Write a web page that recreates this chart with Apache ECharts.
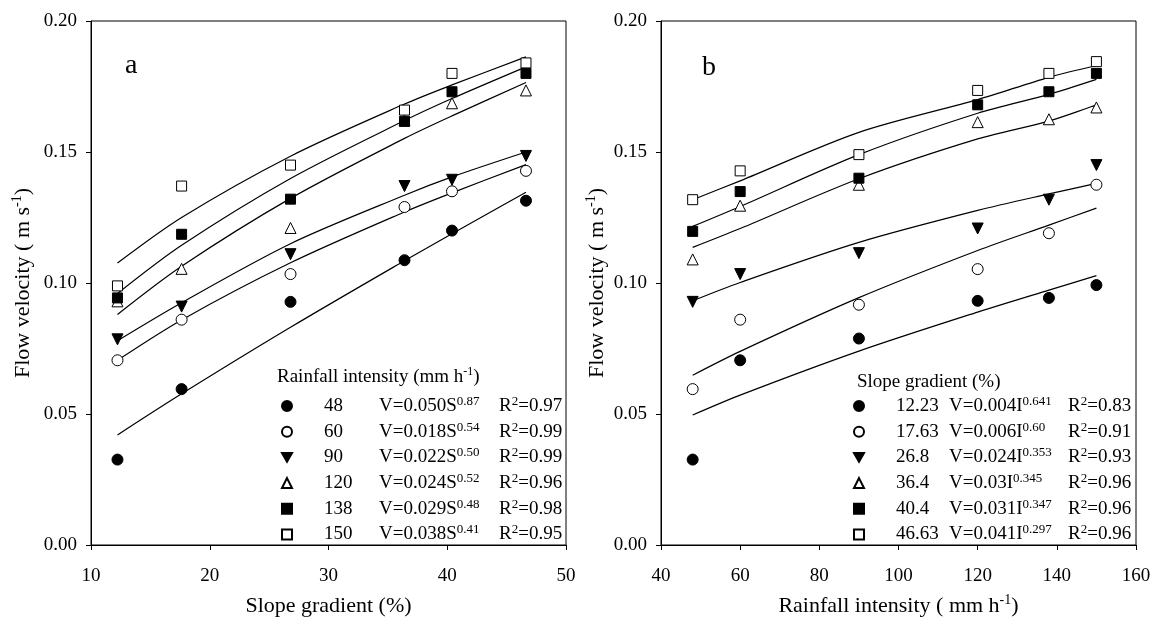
<!DOCTYPE html>
<html>
<head>
<meta charset="utf-8">
<script src="https://cdn.jsdelivr.net/npm/echarts@6/dist/echarts.min.js"></script>
<style>
  html, body { margin: 0; padding: 0; background: #fff; }
  #chart { width: 1154px; height: 622px; }
</style>
</head>
<body>
<div id="chart"></div>
<script>
// ---- Panel a: velocity vs slope gradient, one series per rainfall intensity ----
const slopeX = [12.23, 17.63, 26.8, 36.4, 40.4, 46.63];
const rainNames = ['48', '60', '90', '120', '138', '150'];
const rainObs = [
  [0.0326, 0.0595, 0.0928, 0.1087, 0.1200, 0.1314],
  [0.0705, 0.0860, 0.1034, 0.1290, 0.1350, 0.1428],
  [0.0785, 0.0910, 0.1110, 0.1370, 0.1394, 0.1485],
  [0.0930, 0.1054, 0.1210, 0.1620, 0.1686, 0.1735],
  [0.0943, 0.1186, 0.1320, 0.1617, 0.1730, 0.1800],
  [0.0989, 0.1370, 0.1450, 0.1660, 0.1800, 0.1840]
];
// fitted power curves evaluated at the measured slopes
const rainFit = [
  [0.0420, 0.0577, 0.0831, 0.1085, 0.1188, 0.1346],
  [0.0705, 0.0859, 0.1077, 0.1271, 0.1344, 0.1452],
  [0.0780, 0.0925, 0.1150, 0.1335, 0.1405, 0.1500],
  [0.0880, 0.1064, 0.1323, 0.1552, 0.1638, 0.1765],
  [0.0960, 0.1144, 0.1399, 0.1620, 0.1704, 0.1825],
  [0.1076, 0.1250, 0.1484, 0.1683, 0.1756, 0.1863]
];
const rainEq = [
  ['V=0.050S', '0.87', '0.97'],
  ['V=0.018S', '0.54', '0.99'],
  ['V=0.022S', '0.50', '0.99'],
  ['V=0.024S', '0.52', '0.96'],
  ['V=0.029S', '0.48', '0.98'],
  ['V=0.038S', '0.41', '0.95']
];

// ---- Panel b: velocity vs rainfall intensity, one series per slope gradient ----
const rainX = [48, 60, 90, 120, 138, 150];
const slopeNames = ['12.23', '17.63', '26.8', '36.4', '40.4', '46.63'];
const slopeObs = [
  [0.0326, 0.0705, 0.0788, 0.0932, 0.0943, 0.0992],
  [0.0595, 0.0860, 0.0917, 0.1053, 0.1190, 0.1375],
  [0.0928, 0.1034, 0.1114, 0.1208, 0.1318, 0.1450],
  [0.1090, 0.1295, 0.1375, 0.1614, 0.1625, 0.1670],
  [0.1197, 0.1349, 0.1400, 0.1680, 0.1730, 0.1800],
  [0.1318, 0.1428, 0.1490, 0.1735, 0.1800, 0.1845]
];
const slopeFit = [
  [0.0496, 0.0572, 0.0740, 0.0889, 0.0973, 0.1028],
  [0.0648, 0.0739, 0.0944, 0.1124, 0.1221, 0.1286],
  [0.0932, 0.1002, 0.1155, 0.1277, 0.1340, 0.1380],
  [0.1136, 0.1208, 0.1398, 0.1550, 0.1618, 0.1680],
  [0.1216, 0.1292, 0.1490, 0.1648, 0.1720, 0.1777],
  [0.1318, 0.1390, 0.1575, 0.1700, 0.1785, 0.1830]
];
const slopeEq = [
  ['V=0.004I', '0.641', '0.83'],
  ['V=0.006I', '0.60', '0.91'],
  ['V=0.024I', '0.353', '0.93'],
  ['V=0.03I', '0.345', '0.96'],
  ['V=0.031I', '0.347', '0.96'],
  ['V=0.041I', '0.297', '0.96']
];

const yTicks = [0, 0.05, 0.10, 0.15, 0.20];

// marker styles shared by both panels: filled circle, open circle, filled down-triangle,
// open triangle, filled square, open square
const markers = [
  { symbol: 'circle', fill: '#000', rotate: 0 },
  { symbol: 'circle', fill: '#fff', rotate: 0 },
  { symbol: 'triangle', fill: '#000', rotate: 180 },
  { symbol: 'triangle', fill: '#fff', rotate: 0 },
  { symbol: 'rect', fill: '#000', rotate: 0 },
  { symbol: 'rect', fill: '#fff', rotate: 0 }
];
const DOWN_TRI = 'path://M0,0L10,0L5,8.66Z';

const FONT = '"Liberation Serif", "Times New Roman", serif';
const LEG_SIZE = 19;

// text width helper for lining up the R² column
const measureCtx = document.createElement('canvas').getContext('2d');
function textWidth(str, size) {
  measureCtx.font = size + 'px ' + FONT;
  return measureCtx.measureText(str).width;
}

const series = [];
function addPanel(idx, xs, names, obs, fit) {
  names.forEach((nm, i) => {
    series.push({
      type: 'line',
      name: 'fit ' + nm,
      xAxisIndex: idx, yAxisIndex: idx,
      data: xs.map((x, j) => [x, fit[i][j]]),
      smooth: 0.3,
      showSymbol: false,
      symbol: 'none',
      silent: true,
      lineStyle: { color: '#000', width: 1.2 },
      z: 2
    });
  });
  names.forEach((nm, i) => {
    const m = markers[i];
    series.push({
      type: 'scatter',
      name: nm,
      xAxisIndex: idx, yAxisIndex: idx,
      data: xs.map((x, j) => [x, obs[i][j]]),
      symbol: m.symbol,
      symbolRotate: m.rotate,
      symbolSize: m.symbol === 'rect' ? 10 : 11,
      itemStyle: { color: m.fill, borderColor: '#000', borderWidth: 1, opacity: 1 },
      z: 3 + i
    });
  });
}
addPanel(0, slopeX, rainNames, rainObs, rainFit);
addPanel(1, rainX, slopeNames, slopeObs, slopeFit);

const baseText = { fontFamily: FONT, fontSize: LEG_SIZE, color: '#000', lineHeight: 22 };
const supText = { fontFamily: FONT, fontSize: 13, color: '#000', verticalAlign: 'top', lineHeight: 12 };

// legend rows: value column, equation with exponent, then R² column at fixed offset
function makeLegend(names, eqs, left, top, valPad, valW, eqCol) {
  const rich = {
    v: Object.assign({}, baseText, { width: valW, padding: [0, 0, 0, valPad] }),
    e: Object.assign({}, baseText),
    r: Object.assign({}, baseText),
    t: Object.assign({}, supText)
  };
  eqs.forEach((e, k) => {
    rich['s' + k] = Object.assign({}, supText, { width: Math.max(10, eqCol - textWidth(e[0], LEG_SIZE)) });
  });
  return {
    data: names.map((nm, k) => k === 2 ? { name: nm, icon: DOWN_TRI } : { name: nm }),
    orient: 'vertical',
    left: left,
    top: top,
    padding: 0,
    itemWidth: 10,
    itemHeight: 10,
    itemGap: 5.2,
    selectedMode: false,
    formatter: function (name) {
      const k = names.indexOf(name);
      const e = eqs[k];
      return '{v|' + name + '}{e|' + e[0] + '}{s' + k + '|' + e[1] + '}{r|R}{t|2}{r|=' + e[2] + '}';
    },
    textStyle: { fontFamily: FONT, fontSize: LEG_SIZE, color: '#000', rich: rich }
  };
}

const titleRich = {
  t: { fontFamily: FONT, fontSize: 22, color: '#000', lineHeight: 26 },
  s: { fontFamily: FONT, fontSize: 14, color: '#000', verticalAlign: 'top', lineHeight: 16 }
};

function yAxisCfg(idx, gap) {
  return {
    type: 'value',
    gridIndex: idx,
    min: 0, max: 0.2, interval: 0.05,
    name: '{t|Flow velocity ( m s}{s|-1}{t|)}',
    nameLocation: 'middle',
    nameGap: gap,
    nameRotate: 90,
    nameTextStyle: { rich: titleRich },
    axisLine: { show: true, lineStyle: { color: '#000', width: 1 } },
    axisTick: { show: true, inside: false, length: 5, lineStyle: { color: '#000' } },
    axisLabel: {
      fontFamily: FONT, fontSize: 19, color: '#000', margin: 14,
      formatter: v => yTicks.find(t => Math.abs(t - v) < 1e-9) !== undefined ? v.toFixed(2) : ''
    },
    splitLine: { show: false }
  };
}

function xAxisCfg(idx, min, max, interval, nameRich) {
  return {
    type: 'value',
    gridIndex: idx,
    min: min, max: max, interval: interval,
    name: nameRich,
    nameLocation: 'middle',
    nameGap: 48,
    nameTextStyle: { rich: titleRich },
    axisLine: { show: true, onZero: false, lineStyle: { color: '#000', width: 1 } },
    axisTick: { show: true, inside: false, length: 5, lineStyle: { color: '#000' } },
    axisLabel: { fontFamily: FONT, fontSize: 19, color: '#000', margin: 22 },
    splitLine: { show: false }
  };
}

const chart = echarts.init(document.getElementById('chart'), null, { renderer: 'canvas' });
chart.setOption({
  backgroundColor: '#fff',
  animation: false,
  textStyle: { fontFamily: FONT },
  grid: [
    { left: 91, top: 21, width: 475, height: 528, show: true, borderColor: '#000', borderWidth: 1, backgroundColor: 'transparent' },
    { left: 661, top: 21, width: 475, height: 528, show: true, borderColor: '#000', borderWidth: 1, backgroundColor: 'transparent' }
  ],
  xAxis: [
    xAxisCfg(0, 10, 50, 10, '{t|Slope gradient (%)}'),
    xAxisCfg(1, 40, 160, 20, '{t|Rainfall intensity ( mm h}{s|-1}{t|)}')
  ],
  yAxis: [yAxisCfg(0, 55), yAxisCfg(1, 51)],
  legend: [
    makeLegend(rainNames, rainEq, 281, 395, 27, 55, 120),
    makeLegend(slopeNames, slopeEq, 853, 395, 27, 53, 119)
  ],
  graphic: [
    { type: 'text', x: 125, y: 66, style: { text: 'a', fontFamily: FONT, fontSize: 28, fill: '#000', align: 'left', verticalAlign: 'middle' } },
    { type: 'text', x: 702, y: 68, style: { text: 'b', fontFamily: FONT, fontSize: 28, fill: '#000', align: 'left', verticalAlign: 'middle' } },
    {
      type: 'text', left: 277, top: 366,
      style: {
        text: '{t|Rainfall intensity (mm h}{s|-1}{t|)}',
        rich: {
          t: { fontFamily: FONT, fontSize: LEG_SIZE, fill: '#000', lineHeight: 22 },
          s: { fontFamily: FONT, fontSize: 12, fill: '#000', verticalAlign: 'top', lineHeight: 12 }
        }
      }
    },
    {
      type: 'text', left: 857, top: 371,
      style: { text: 'Slope gradient (%)', fontFamily: FONT, fontSize: LEG_SIZE, fill: '#000', lineHeight: 22 }
    }
  ],
  series: series
});
</script>
</body>
</html>
